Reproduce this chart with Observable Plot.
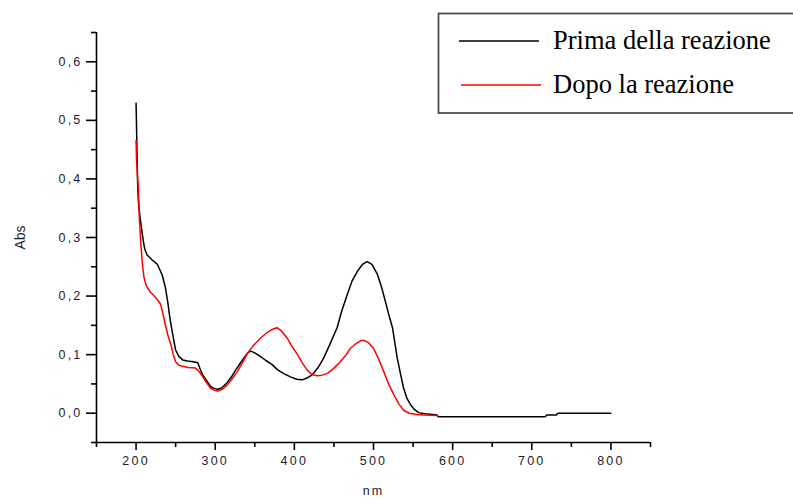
<!DOCTYPE html>
<html><head><meta charset="utf-8">
<script src="https://cdn.jsdelivr.net/npm/d3@7"></script>
<script src="https://cdn.jsdelivr.net/npm/@observablehq/plot@0.6"></script>
<style>
body{margin:0;background:#fff;}
#wrap{position:relative;width:793px;height:499px;overflow:hidden;background:#fff;}
#legend{position:absolute;left:0;top:0;}
</style>
</head><body>
<div id="wrap"></div>
<script>
// Series: "Prima della reazione" (black)
const primaNm  = [200,201,202,203,205,207,209,211,214,220,227,233,237,240,243,245,248,250,254,259,265,272,278,281,284,289,294,299,303,308,315,321,326,331,336,341,345,350,357,364,372,379,386,395,403,410,416,423,430,437,445,454,460,467,473,480,486,492,498,505,510,515,520,524,527,530,534,538,542,547,552,557,565,575,580,582,717,719,731,733,800];
const primaAbs = [0.529,0.46,0.39,0.36,0.335,0.315,0.295,0.28,0.270,0.262,0.254,0.236,0.215,0.190,0.160,0.145,0.122,0.108,0.097,0.091,0.089,0.088,0.086,0.075,0.066,0.056,0.046,0.042,0.041,0.043,0.052,0.063,0.074,0.084,0.094,0.103,0.106,0.103,0.097,0.090,0.083,0.074,0.068,0.062,0.058,0.057,0.060,0.066,0.078,0.094,0.118,0.146,0.175,0.203,0.226,0.243,0.254,0.259,0.254,0.237,0.216,0.191,0.165,0.146,0.120,0.094,0.068,0.043,0.026,0.014,0.006,0.001,-0.001,-0.002,-0.003,-0.006,-0.006,-0.003,-0.003,0.0,0.0];
// Series: "Dopo la reazione" (red)
const dopoNm  = [200,200.5,202,203,204,206,208,210,213,218,223,228,231,234,237,240,244,247,250,254,259,266,275,279,284,289,294,299,303,309,315,321,328,334,341,348,357,365,372,378,384,391,397,404,410,416,422,429,435,442,450,458,465,471,478,484,489,494,500,506,513,519,526,532,538,545,555,565,580];
const dopoAbs = [0.466,0.436,0.40,0.384,0.337,0.29,0.254,0.232,0.217,0.207,0.200,0.192,0.186,0.170,0.151,0.134,0.117,0.100,0.088,0.082,0.080,0.078,0.077,0.072,0.063,0.052,0.043,0.039,0.038,0.041,0.048,0.058,0.071,0.085,0.103,0.115,0.128,0.137,0.143,0.146,0.140,0.128,0.114,0.100,0.086,0.074,0.066,0.064,0.065,0.068,0.077,0.088,0.099,0.111,0.119,0.124,0.124,0.120,0.111,0.094,0.071,0.050,0.031,0.016,0.005,0.000,-0.002,-0.003,-0.004];
// Ticks
const xMajor = [200,300,400,500,600,700,800];
const xMinor = [150,250,350,450,550,650,750,850];
const yMajor = [0,0.1,0.2,0.3,0.4,0.5,0.6];
const yMinor = [-0.05,0.05,0.15,0.25,0.35,0.45,0.55,0.65];
// Legend
const seriesNames = ["Prima della reazione","Dopo la reazione"];
const seriesColors = ["#000000","#ff0000"];

const prima = primaNm.map((x,i)=>({nm:x, abs:primaAbs[i]}));
const dopo = dopoNm.map((x,i)=>({nm:x, abs:dopoAbs[i]}));
const fmtY = d => d3.format(".1f")(d).replace(".", ",");

const chart = Plot.plot({
  width: 793, height: 499,
  marginLeft: 96, marginTop: 32, marginRight: 143, marginBottom: 57,
  x: {domain: [150, 850]},
  y: {domain: [-0.05, 0.65]},
  style: {fontFamily: "'Liberation Sans', Arial, sans-serif", fontSize: "12.5px", color: "#000", background: "#fff", letterSpacing: "2.2px"},
  marks: [
    Plot.axisX(xMinor, {tickSize: 5, tickFormat: () => "", label: null, stroke: "#000", strokeWidth: 1.6}),
    Plot.axisX(xMajor, {tickSize: 8, tickPadding: 6, tickFormat: d => String(d), label: "nm", labelArrow: "none", labelAnchor: "center", labelOffset: 52, stroke: "#000", strokeWidth: 1.6, fill: "#1c1c2c"}),
    Plot.axisY(yMinor, {tickSize: 5, tickFormat: () => "", label: null, stroke: "#000", strokeWidth: 1.6}),
    Plot.axisY(yMajor, {tickSize: 10, tickPadding: 4, tickFormat: fmtY, label: "Abs", labelArrow: "none", labelAnchor: "center", labelOffset: 81, stroke: "#000", strokeWidth: 1.6, fill: "#1c1c2c"}),
    Plot.ruleY([-0.05], {stroke: "#000", strokeWidth: 1.6}),
    Plot.ruleX([150], {stroke: "#000", strokeWidth: 1.6}),
    Plot.line(prima, {x: "nm", y: "abs", stroke: seriesColors[0], strokeWidth: 1.5}),
    Plot.line(dopo, {x: "nm", y: "abs", stroke: seriesColors[1], strokeWidth: 1.5})
  ]
});
const yLab = chart.querySelector('[aria-label="y-axis label"]');
if (yLab) { yLab.style.letterSpacing = "0px"; yLab.style.fontSize = "14px"; }
const wrap = document.getElementById("wrap");
wrap.appendChild(chart);

// Legend overlay
const ns = "http://www.w3.org/2000/svg";
const lg = document.createElementNS(ns, "svg");
lg.setAttribute("id", "legend");
lg.setAttribute("width", 793); lg.setAttribute("height", 120);
const box = document.createElementNS(ns, "rect");
box.setAttribute("x", 438.5); box.setAttribute("y", 13.5);
box.setAttribute("width", 400); box.setAttribute("height", 99.5);
box.setAttribute("fill", "#fff"); box.setAttribute("stroke", "#444"); box.setAttribute("stroke-width", 1.7);
lg.appendChild(box);
const rows = [{y: 41, ty: 48.5, x1: 459, x2: 539}, {y: 85, ty: 93, x1: 461, x2: 541}];
seriesNames.forEach((name, i) => {
  const r = rows[i];
  const ln = document.createElementNS(ns, "line");
  ln.setAttribute("x1", r.x1); ln.setAttribute("x2", r.x2);
  ln.setAttribute("y1", r.y); ln.setAttribute("y2", r.y);
  ln.setAttribute("stroke", seriesColors[i]); ln.setAttribute("stroke-width", 1.6);
  lg.appendChild(ln);
  const t = document.createElementNS(ns, "text");
  t.setAttribute("x", 553); t.setAttribute("y", r.ty);
  t.setAttribute("font-family", "'Liberation Serif','Times New Roman',serif");
  t.setAttribute("font-size", "26.5px");
  t.setAttribute("fill", "#000");
  t.textContent = name;
  lg.appendChild(t);
});
wrap.appendChild(lg);
</script>
</body></html>
